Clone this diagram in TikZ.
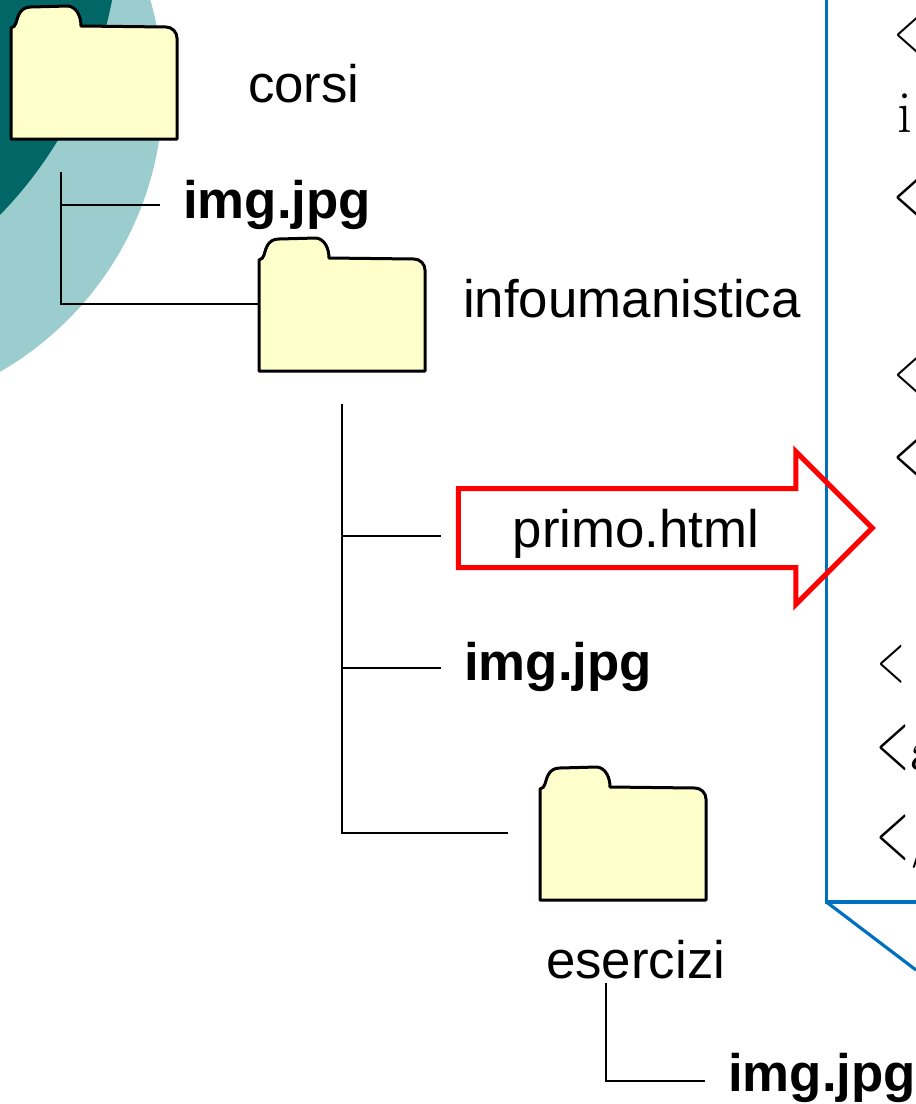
\documentclass[tikz,border=0pt]{standalone}
\usepackage{fontspec}
\setmainfont{Liberation Sans}
\newfontfamily\codefont{Latin Modern Roman}
\usetikzlibrary{shapes.arrows}
\definecolor{tealdark}{HTML}{006666}
\definecolor{teallight}{HTML}{9CCDCE}
\definecolor{folderfill}{HTML}{FFFFCC}
\definecolor{frameblue}{HTML}{0070C0}
\newcommand{\bigless}{\scalebox{.52}[1]{<}}
\begin{document}
\begin{tikzpicture}[
                    x = 1pt,
                    y = -1pt,
                    tree/.style = {draw, line width = 2.7pt},
                    pageframe/.style = {draw = frameblue, line width = 3.2pt},
                    dirlabel/.style = {inner sep = 0pt, font = \fontsize{52.8}{60}\selectfont},
                    filelabel/.style = {inner sep = 0pt, font = \fontsize{52.8}{60}\selectfont\bfseries},
                    codebig/.style = {inner sep = 0pt, anchor = base west, font = \codefont\fontsize{83}{90}\selectfont},
                    codesmall/.style = {inner sep = 0pt, anchor = base west, font = \codefont\fontsize{69}{80}\selectfont},
                    codeletter/.style = {inner sep = 0pt, anchor = base west, font = \codefont\fontsize{60}{70}\selectfont},
                    folderbox/.pic = {
                        \draw[fill = folderfill, line width = 3pt, line join = round]
                        (0,0) -- (0,-111) .. controls (3,-112) and (4,-113) .. (5,-116)
                        .. controls (7,-123) and (9,-132) .. (20,-132)
                        -- (57,-133) .. controls (66,-132) and (70,-122) .. (70,-113)
                        -- (155,-112) .. controls (161,-112) and (166,-107) .. (166,-101)
                        -- (166,0) -- cycle;
                        \coordinate (-left) at (0,-67);
                    }]
                \useasboundingbox (0,0) rectangle (916,1104);
                \clip (0,0) rectangle (916,1104);
                \fill[teallight] (-162,90) circle (325);
                \fill[tealdark]  (-304,-80) circle (423.6);

                \pic (corsi)  at (11,139)  {folderbox};
                \pic (info)   at (259,371) {folderbox};
                \pic (eserc)  at (540,900) {folderbox};

                \node[dirlabel, anchor = base west] (corsilabel) at (248,102) {corsi};
                \node[dirlabel, anchor = base west] (infolabel)  at (463,317) {infoumanistica};
                \node[dirlabel, anchor = base west] (esercla)    at (546,978) {esercizi};

                \node[filelabel, anchor = west] (img1) at (183,205)  {img.jpg};
                \node[filelabel, anchor = west] (img2) at (464,667)  {img.jpg};
                \node[filelabel, anchor = west] (img3) at (728,1078) {img.jpg};

                % blue page frame
                \coordinate (framecorner) at (826.5,902);
                \coordinate (frametop)    at (826.5,0);
                \coordinate (frameright)  at (916,902);
                \coordinate (framediag)   at (916,970);
                \draw[pageframe] (frametop) -- (framecorner) -- (frameright);
                \draw[pageframe] (framecorner) -- (framediag);

                % page source, cut by the edge
                \node[codesmall] (c1) at (894,52)  {\bigless};
                \node[codeletter] (c2) at (897,132) {i};
                \node[codebig]   (c3) at (893,218) {\bigless};
                \node[codesmall] (c4) at (894,392) {\bigless};
                \node[codebig]   (c5) at (893,478) {\bigless};
                \node[codesmall] (c6) at (877,681) {\bigless};
                \node[codebig]   (c7) at (876,768) {\bigless};
                \node[codeletter] (c8) at (910,770) {a};
                \node[codebig]   (c9) at (876,858) {\bigless};
                \node[codeletter] (c10) at (910,853) {/};

                \node[single arrow, draw = red, line width = 5pt, inner xsep = 0pt, inner ysep = 37pt, outer sep = 0pt,
                      minimum height = 414pt,
                      single arrow head extend = 37pt, single arrow head indent = 0pt]
                      (htmlarrow) at (645.5,528) {};
                \node[dirlabel] (htmllabel) at (636,534) {primo.html};

                \coordinate (trunk1top) at (61,172);
                \coordinate (trunk2top) at (342,404);
                \coordinate (trunk3top) at (606,983);
                \coordinate (arrowend)  at (441,536);
                \coordinate (img2end)   at (441,668);
                \coordinate (esercend)  at (508,833);
                \coordinate (img3end)   at (705,1081);
                \coordinate (img1end)   at (160,205);

                \draw[tree] (trunk1top) |- (info-left);
                \draw[tree] (trunk1top |- img1end) -- (img1end);
                \draw[tree] (trunk2top) |- (esercend);
                \draw[tree] (trunk2top |- arrowend) -- (arrowend);
                \draw[tree] (trunk2top |- img2end) -- (img2end);
                \draw[tree] (trunk3top) |- (img3end);
            \end{tikzpicture}
\end{document}
